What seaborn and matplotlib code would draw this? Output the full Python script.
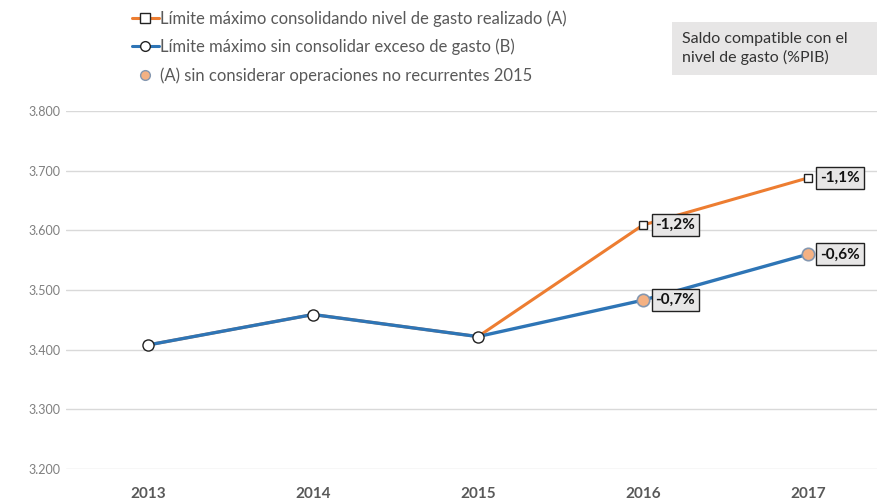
import numpy as np
import pandas as pd
import matplotlib
matplotlib.use('Agg')
import matplotlib.pyplot as plt
import matplotlib.ticker as mticker
from matplotlib.lines import Line2D
from matplotlib.patches import Rectangle
import seaborn as sns

# Data
years = [2013, 2014, 2015, 2016, 2017]
limite_a = [3408, 3459, 3422, 3609, 3688]   # consolidando nivel de gasto realizado (A)
limite_b = [3408, 3459, 3422, 3483, 3560]   # sin consolidar exceso de gasto (B)
sin_rec_years = [2016, 2017]
sin_rec = [3483, 3560]                      # (A) sin operaciones no recurrentes 2015

saldo_a = {2016: '-1,2%', 2017: '-1,1%'}
saldo_b = {2016: '-0,7%', 2017: '-0,6%'}

label_a = 'Límite máximo consolidando nivel de gasto realizado (A)'
label_b = 'Límite máximo sin consolidar exceso de gasto (B)'
label_c = '(A) sin considerar operaciones no recurrentes 2015'

ORANGE = '#ED7D31'
BLUE = '#2E75B6'
GREY_TXT = '#595959'

sns.set_style('white')
plt.rcParams['font.family'] = ['Lato', 'DejaVu Sans']

df = pd.DataFrame({'year': years, 'A': limite_a, 'B': limite_b})

fig = plt.figure(figsize=(8.77, 5.01), dpi=100)
ax = fig.add_axes([0.075, 0.064, 0.925, 0.714])

sns.lineplot(data=df, x='year', y='A', ax=ax, color=ORANGE, linewidth=2.2,
             marker='s', markersize=6, markerfacecolor='white',
             markeredgecolor='#222222', markeredgewidth=1.0, zorder=3)
sns.lineplot(data=df, x='year', y='B', ax=ax, color=BLUE, linewidth=2.4,
             marker='o', markersize=8, markerfacecolor='white',
             markeredgecolor='#222222', markeredgewidth=1.0, zorder=4)
sns.scatterplot(x=sin_rec_years, y=sin_rec, ax=ax, s=80, color='#F4B183',
                edgecolor='#8497B0', linewidth=1.2, zorder=5)

box = dict(boxstyle='square,pad=0.25', facecolor='#E7E6E6', edgecolor='#222222', linewidth=1.0)
for yr, txt in saldo_a.items():
    ax.annotate(txt, (yr, limite_a[years.index(yr)]), xytext=(9, 0), textcoords='offset points',
                ha='left', va='center', fontsize=11, fontweight='bold', color='#111111',
                bbox=box, zorder=6)
for yr, txt in saldo_b.items():
    ax.annotate(txt, (yr, limite_b[years.index(yr)]), xytext=(9, 0), textcoords='offset points',
                ha='left', va='center', fontsize=11, fontweight='bold', color='#111111',
                bbox=box, zorder=6)

ax.set_xlim(2012.5, 2017.42)
ax.set_ylim(3200, 3800)
ax.set_xticks(years)
ax.set_yticks(range(3200, 3801, 100))
ax.yaxis.set_major_formatter(mticker.FuncFormatter(lambda v, p: f'{v/1000:.3f}'))
ax.tick_params(axis='y', labelsize=9, colors='#7F7F7F', length=0, pad=4)
ax.tick_params(axis='x', labelsize=11, colors=GREY_TXT, length=0, pad=13)
for lab in ax.get_xticklabels():
    lab.set_fontweight('bold')
ax.grid(axis='y', color='#D9D9D9', linewidth=1.0)
ax.grid(axis='x', visible=False)
for s in ax.spines.values():
    s.set_visible(False)
ax.set_xlabel('')
ax.set_ylabel('')

handles = [
    Line2D([], [], color=ORANGE, linewidth=2.2, marker='s', markersize=7,
           markerfacecolor='white', markeredgecolor='#222222'),
    Line2D([], [], color=BLUE, linewidth=2.2, marker='o', markersize=7,
           markerfacecolor='white', markeredgecolor='#222222'),
    Line2D([], [], linestyle='none', marker='o', markersize=7,
           markerfacecolor='#F4B183', markeredgecolor='#8497B0'),
]
leg = fig.legend(handles, [label_a, label_b, label_c], loc='upper left',
                 bbox_to_anchor=(0.14, 0.998), frameon=False, fontsize=12,
                 handlelength=1.6, handletextpad=0.1, labelspacing=0.72,
                 borderaxespad=0.15)
for t in leg.get_texts():
    t.set_color(GREY_TXT)

fig.patches.append(Rectangle((672 / 877, 1 - 75 / 501), 205 / 877, 53 / 501,
                             transform=fig.transFigure, facecolor='#E7E6E6',
                             edgecolor='none', zorder=1))
fig.text(682 / 877, 1 - 48.5 / 501, 'Saldo compatible con el\nnivel de gasto (%PIB)',
         fontsize=11.5, color='#333333', ha='left', va='center', linespacing=1.35, zorder=2)

fig.savefig('out.png', dpi=100)
